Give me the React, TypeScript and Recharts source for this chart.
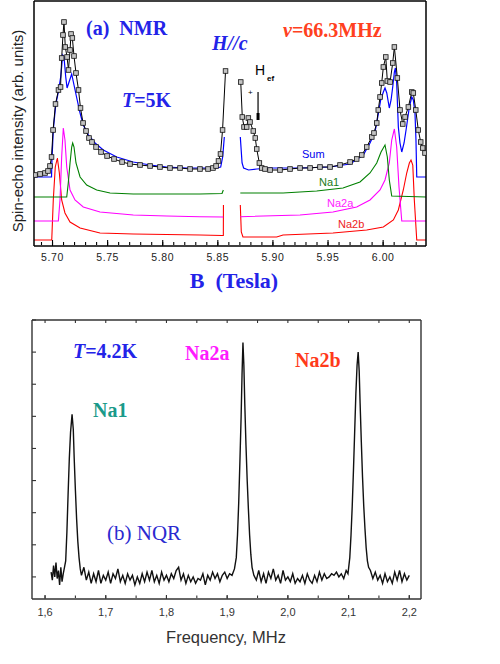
import React from "react";
import { LineChart, Line, XAxis, YAxis, ReferenceLine } from "recharts";

// (a) NMR spectrum, field sweep at 66.3 MHz, T = 5 K  — [B (T), intensity (arb.)]
// null = gap left out around the reference line near 5.86 T
const measured: [number, number | null][] = [
  [5.6841, 71], [5.6887, 72], [5.6932, 73], [5.6959, 75], [5.6977, 80], [5.6991, 89],
  [5.7005, 116], [5.7027, 142], [5.7054, 156], [5.7073, 159], [5.7083, 188], [5.7095, 211],
  [5.7104, 224], [5.7116, 199], [5.7132, 189], [5.7145, 176], [5.7159, 196], [5.7168, 212],
  [5.718, 208], [5.7195, 190], [5.7213, 173], [5.7236, 156], [5.7254, 138], [5.7277, 123],
  [5.7304, 115], [5.7331, 108], [5.7358, 104], [5.7395, 99], [5.744, 94], [5.7495, 90],
  [5.7558, 87], [5.7631, 84], [5.7703, 82], [5.7794, 81], [5.7885, 80], [5.7975, 79],
  [5.8066, 78], [5.8157, 78], [5.8248, 77], [5.8338, 77], [5.8411, 77], [5.8456, 78],
  [5.8484, 80], [5.8506, 85], [5.8524, 92], [5.8543, 116], [5.857, 175],
  [5.8629, null],
  [5.8708, 164], [5.8722, 129], [5.8738, 119], [5.8762, 119], [5.8777, 128], [5.8792, 124],
  [5.8822, 115], [5.884, 108], [5.8853, 97], [5.8877, 83], [5.8898, 78], [5.8928, 77],
  [5.8974, 76], [5.9064, 76], [5.9155, 77], [5.9246, 78], [5.9337, 78], [5.9427, 79],
  [5.9518, 79], [5.9609, 81], [5.97, 84], [5.976, 87], [5.9806, 91], [5.9851, 99],
  [5.9897, 109], [5.9917, 113], [5.9942, 123], [5.9956, 136], [5.9972, 149], [5.9987, 163],
  [6.0002, 179], [6.0024, 189], [6.0038, 165], [6.0063, 164], [6.0087, 183], [6.0102, 199],
  [6.0129, 168], [6.0153, 136], [6.0178, 122], [6.0199, 129], [6.0229, 139], [6.026, 154],
  [6.0274, 153], [6.0296, 136], [6.0319, 116], [6.0341, 104], [6.0359, 98], [6.038, 93],
];

const sumFit: [number, number | null][] = [
  [5.6832, 69], [5.6991, 69], [5.6995, 86], [5.7007, 116], [5.7029, 141], [5.7053, 154],
  [5.7074, 169], [5.7093, 191], [5.7104, 189], [5.712, 169], [5.7132, 158], [5.715, 164],
  [5.7174, 172], [5.7195, 161], [5.722, 148], [5.725, 133], [5.7279, 121], [5.7325, 111],
  [5.7386, 103], [5.7461, 96], [5.7583, 89], [5.7733, 84], [5.7885, 81], [5.8036, 79],
  [5.8218, 78], [5.8399, 78], [5.849, 78], [5.8526, 79], [5.8544, 89], [5.8559, 109],
  [5.8629, null],
  [5.8704, 109], [5.872, 83], [5.8734, 78], [5.8779, 76], [5.8853, 77], [5.8974, 78],
  [5.9246, 78], [5.9518, 79], [5.97, 82], [5.982, 91], [5.9881, 103], [5.9926, 114],
  [5.9942, 123], [5.9978, 146], [6.0002, 154], [6.0017, 158], [6.0033, 153], [6.0056, 138],
  [6.0072, 146], [6.0087, 159], [6.0102, 174], [6.0111, 178], [6.0123, 163], [6.0138, 119],
  [6.0153, 103], [6.0169, 94], [6.019, 103], [6.0208, 116], [6.0238, 139], [6.026, 149],
  [6.0274, 146], [6.0289, 133], [6.0298, 106], [6.0305, 69], [6.0389, 69],
];

const na1Fit: [number, number | null][] = [
  [5.6832, 49], [5.7129, 49], [5.7143, 63], [5.7159, 83], [5.7174, 99], [5.7183, 103],
  [5.7195, 99], [5.7213, 83], [5.725, 69], [5.731, 61], [5.7401, 56], [5.7522, 53],
  [5.7733, 52], [5.8036, 52], [5.8338, 52], [5.8538, 52.5], [5.855, 56],
  [5.8629, null],
  [5.8704, 53], [5.9092, 53], [5.9397, 55], [5.9636, 58], [5.979, 64], [5.9881, 73],
  [5.9942, 83], [5.9981, 94], [6.0017, 101], [6.0038, 89], [6.0056, 66], [6.0078, 50],
  [6.0389, 49],
];

const na2aFit: [number, number | null][] = [
  [5.6832, 25], [5.7053, 25], [5.7068, 46], [5.7083, 89], [5.7098, 118], [5.7113, 106],
  [5.7129, 79], [5.7159, 56], [5.7204, 46], [5.7279, 39], [5.7431, 34], [5.7733, 31],
  [5.8036, 30], [5.8338, 29.3], [5.855, 29],
  [5.8629, null],
  [5.8704, 29.3], [5.9246, 31], [5.9545, 34], [5.976, 39], [5.9881, 46], [5.9972, 56],
  [6.0017, 66], [6.0056, 83], [6.0078, 106], [6.0102, 117], [6.0123, 99], [6.0144, 59],
  [6.0169, 25], [6.0389, 25],
];

const na2bFit: [number, number | null][] = [
  [5.6832, 6], [5.6993, 6], [5.7007, 46], [5.7025, 79], [5.7044, 88], [5.7062, 73],
  [5.7083, 46], [5.7113, 33], [5.7159, 24], [5.725, 18], [5.7431, 13], [5.7733, 12],
  [5.8338, 11], [5.8538, 10.5], [5.855, 10.5], [5.8551, 41],
  [5.8629, null],
  [5.8704, 41], [5.8713, 14], [5.8728, 9], [5.9034, 9], [5.9092, 11], [5.9545, 13],
  [5.9851, 16], [6.0002, 19], [6.0093, 26], [6.0138, 36], [6.0183, 56], [6.0214, 73],
  [6.0238, 83], [6.0253, 86], [6.0269, 81], [6.0283, 46], [6.0305, 6], [6.0389, 6],
];

const nmrTicks = [
  5.69, 5.7, 5.71, 5.72, 5.73, 5.74, 5.75, 5.76, 5.77, 5.78, 5.79, 5.8, 5.81, 5.82,
  5.83, 5.84, 5.85, 5.86, 5.87, 5.88, 5.89, 5.9, 5.91, 5.92, 5.93, 5.94, 5.95, 5.96,
  5.97, 5.98, 5.99, 6.0, 6.01, 6.02, 6.03,
];
const nmrLabels = [5.7, 5.75, 5.8, 5.85, 5.9, 5.95, 6.0];

// (b) NQR spectrum at 4.2 K — [frequency (MHz), intensity (arb.)]
const nqr: [number, number][] = [
  [1.61, 0.15], [1.612, -0.1], [1.614, 0.35], [1.616, 0], [1.618, 0.45], [1.62, -0.05],
  [1.622, 0.2], [1.624, -0.25], [1.626, 0.3], [1.628, -0.15], [1.63, 0.1], [1.632, 0.3],
  [1.634, 0.5], [1.636, 1.4], [1.638, 2.6], [1.64, 3.7], [1.642, 4.5], [1.6445, 5.06],
  [1.6465, 4.6], [1.648, 3.7], [1.65, 2.7], [1.652, 1.8], [1.654, 1.1], [1.656, 0.6],
  [1.658, 0.25], [1.66, 0.05], [1.664, 0.3], [1.668, -0.1], [1.672, 0.15], [1.676, -0.2],
  [1.68, 0.1], [1.684, -0.15], [1.688, 0.2], [1.692, -0.2], [1.696, 0.05], [1.7, -0.1],
  [1.704, 0.15], [1.708, -0.2], [1.712, 0.1], [1.716, -0.05], [1.72, 0.25], [1.724, -0.15],
  [1.728, 0.05], [1.732, -0.2], [1.736, 0.1], [1.74, -0.1], [1.744, 0.05], [1.748, -0.25],
  [1.752, 0], [1.756, -0.2], [1.76, 0.1], [1.764, -0.15], [1.768, 0.15], [1.772, -0.1],
  [1.776, 0.2], [1.78, -0.15], [1.784, 0.05], [1.788, -0.2], [1.792, 0.15], [1.796, -0.1],
  [1.8, 0.05], [1.804, -0.15], [1.808, 0.1], [1.812, -0.05], [1.816, 0.2], [1.82, 0.3],
  [1.824, -0.1], [1.828, 0.1], [1.832, -0.2], [1.836, 0.05], [1.84, -0.15], [1.844, 0],
  [1.848, -0.2], [1.852, -0.05], [1.856, -0.1], [1.86, 0.1], [1.864, -0.25], [1.868, 0.05],
  [1.872, -0.1], [1.876, 0.15], [1.88, -0.05], [1.884, 0.1], [1.888, -0.15], [1.892, 0.05],
  [1.896, 0.15], [1.9, -0.05], [1.904, 0.1], [1.908, 0.05], [1.912, 0.25], [1.915, 0.6],
  [1.917, 1.3], [1.919, 2.3], [1.921, 3.6], [1.923, 5.0], [1.9245, 6.3], [1.926, 7.3],
  [1.9275, 6.6], [1.929, 5.4], [1.931, 4.1], [1.933, 3.0], [1.935, 2.1], [1.937, 1.3],
  [1.939, 0.7], [1.941, 0.3], [1.944, 0.05], [1.948, -0.1], [1.952, 0.2], [1.956, -0.15],
  [1.96, 0.1], [1.964, -0.2], [1.968, 0.15], [1.972, -0.05], [1.976, 0.25], [1.98, -0.1],
  [1.984, 0.05], [1.988, -0.2], [1.992, 0.2], [1.996, -0.1], [2.0, 0], [2.004, -0.15],
  [2.008, 0.1], [2.012, -0.2], [2.016, -0.05], [2.02, -0.15], [2.024, 0.05], [2.028, -0.2],
  [2.032, 0.1], [2.036, -0.1], [2.04, -0.2], [2.044, 0.05], [2.048, -0.15], [2.052, 0.15],
  [2.056, -0.1], [2.06, 0.1], [2.064, -0.05], [2.068, 0], [2.072, 0.1], [2.076, 0.05],
  [2.08, 0.15], [2.084, 0], [2.088, 0.1], [2.092, -0.05], [2.096, 0.2], [2.099, 0.1],
  [2.102, 0.6], [2.104, 1.3], [2.106, 2.2], [2.108, 3.3], [2.11, 4.5], [2.112, 5.7],
  [2.114, 6.6], [2.1158, 7.0], [2.1175, 6.4], [2.119, 5.4], [2.121, 4.2], [2.123, 3.1],
  [2.125, 2.2], [2.127, 1.5], [2.129, 0.9], [2.131, 0.5], [2.133, 0.3], [2.136, 0.2],
  [2.14, -0.05], [2.144, 0.15], [2.148, -0.1], [2.152, 0.05], [2.156, -0.2], [2.16, 0.1],
  [2.164, -0.15], [2.168, 0], [2.172, -0.2], [2.176, 0.15], [2.18, -0.1], [2.184, 0.2],
  [2.188, -0.15], [2.192, 0.1], [2.196, -0.1], [2.2, 0.05],
];

const nqrTicks = [1.6, 1.65, 1.7, 1.75, 1.8, 1.85, 1.9, 1.95, 2.0, 2.05, 2.1, 2.15, 2.2];
const nqrMajor = [1.6, 1.7, 1.8, 1.9, 2.0, 2.1, 2.2];
const nqrLabels = ["1,6", "1,7", "1,8", "1,9", "2,0", "2,1", "2,2"];
const nqrYTicks = [0, 1, 2, 3, 4, 5, 6, 7, 8];

const toRows = (pairs: [number, number | null][]) => pairs.map(([x, v]) => ({ x, v }));

const serif = "'Liberation Serif', 'Times New Roman', serif";
const sans = "'Liberation Sans', Arial, sans-serif";
const BLUE = "#2323e8";

const NmrLabel = (props: any) => {
  const { x, y, payload } = props;
  return (
    <text x={x} y={y + 15} textAnchor="middle" fontFamily={sans} fontSize={10.5} fill="#222" letterSpacing={0.6}>
      {payload.value.toFixed(2)}
    </text>
  );
};

const NqrLabel = (props: any) => {
  const { x, y, payload, index } = props;
  return (
    <text x={x} y={y + 17} textAnchor="middle" fontFamily={sans} fontSize={11} fill="#333">
      {nqrLabels[index] ?? payload.value}
    </text>
  );
};

const NoLabel = () => <g />;

const SquareDot = (p: any) => {
  if (p.cx == null || p.cy == null || p.value == null) return <g key={`s${p.index}`} />;
  return (
    <rect
      key={`s${p.index}`}
      x={p.cx - 2.3}
      y={p.cy - 2.3}
      width={4.6}
      height={4.6}
      fill="#c4c4c4"
      stroke="#111"
      strokeWidth={0.8}
    />
  );
};

// inward tick marks drawn by mirrored axes that take no room
const inward = (id: string, orientation: "top" | "bottom", domain: number[], ticks: number[], size: number, color: string) => (
  <XAxis
    xAxisId={id}
    orientation={orientation}
    mirror
    type="number"
    dataKey="x"
    domain={domain}
    allowDataOverflow
    ticks={ticks}
    interval={0}
    tickSize={size}
    tickLine={{ stroke: color, strokeWidth: 1.1 }}
    tick={<NoLabel />}
    axisLine={false}
    height={1}
  />
);

const NMR_X = [5.6832, 6.0389];
const NQR_X = [1.5785, 2.2193];

const NmrPanel = () => (
  <LineChart width={500} height={300} margin={{ top: 0, right: 73, bottom: 24, left: 33 }}>
    <XAxis
      dataKey="x"
      type="number"
      domain={NMR_X}
      allowDataOverflow
      ticks={nmrLabels}
      interval={0}
      tickSize={0}
      tickMargin={0}
      tickLine={false}
      tick={<NmrLabel />}
      height={30}
      axisLine={{ stroke: "#000", strokeWidth: 1.5 }}
    />
    {inward("minor", "bottom", NMR_X, nmrTicks, 3, "#000")}
    {inward("major", "bottom", NMR_X, nmrLabels, 6, "#000")}
    <XAxis xAxisId="top" orientation="top" type="number" dataKey="x" domain={NMR_X} allowDataOverflow height={1} tick={false} tickLine={false} axisLine={{ stroke: "#000", strokeWidth: 1.5 }} />
    <YAxis type="number" domain={[0, 245]} allowDataOverflow width={1} tick={false} tickLine={false} axisLine={{ stroke: "#000", strokeWidth: 1.5 }} />
    <YAxis yAxisId="right" orientation="right" type="number" domain={[0, 245]} width={1} tick={false} tickLine={false} axisLine={{ stroke: "#000", strokeWidth: 1.5 }} />
    <Line data={toRows(na2bFit)} dataKey="v" stroke="#ff0000" strokeWidth={1.1} dot={false} isAnimationActive={false} />
    <Line data={toRows(na2aFit)} dataKey="v" stroke="#ff00ff" strokeWidth={1.1} dot={false} isAnimationActive={false} />
    <Line data={toRows(na1Fit)} dataKey="v" stroke="#008000" strokeWidth={1.1} dot={false} isAnimationActive={false} />
    <Line data={toRows(sumFit)} dataKey="v" stroke="#0000ff" strokeWidth={1.2} dot={false} isAnimationActive={false} />
    <Line data={toRows(measured)} dataKey="v" stroke="#000" strokeWidth={1} dot={<SquareDot />} isAnimationActive={false} />
    <ReferenceLine segment={[{ x: 5.8865, y: 154 }, { x: 5.8865, y: 127 }]} stroke="#000" strokeWidth={1.2} />
    <ReferenceLine segment={[{ x: 5.8865, y: 133 }, { x: 5.8865, y: 126 }]} stroke="#000" strokeWidth={3} />
  </LineChart>
);

const NqrPanel = () => (
  <LineChart width={500} height={354} data={nqr.map(([x, v]) => ({ x, v }))} margin={{ top: 10, right: 78, bottom: 35, left: 32 }}>
    <XAxis
      dataKey="x"
      type="number"
      domain={NQR_X}
      allowDataOverflow
      ticks={nqrMajor}
      interval={0}
      tickSize={0}
      tickMargin={0}
      tickLine={false}
      tick={<NqrLabel />}
      height={30}
      axisLine={{ stroke: "#333", strokeWidth: 1.4 }}
    />
    {inward("minor", "bottom", NQR_X, nqrTicks, 2.5, "#333")}
    {inward("major", "bottom", NQR_X, nqrMajor, 4, "#333")}
    <XAxis
      xAxisId="top"
      orientation="top"
      mirror
      dataKey="x"
      type="number"
      domain={NQR_X}
      allowDataOverflow
      ticks={nqrTicks}
      interval={0}
      tickSize={3}
      tickLine={{ stroke: "#333", strokeWidth: 1.1 }}
      tick={<NoLabel />}
      height={1}
      axisLine={{ stroke: "#333", strokeWidth: 1.4 }}
    />
    <YAxis
      type="number"
      mirror
      domain={[-0.6875, 8]}
      allowDataOverflow
      ticks={nqrYTicks}
      interval={0}
      tickSize={4}
      tickLine={{ stroke: "#333", strokeWidth: 1.1 }}
      tick={<NoLabel />}
      width={1}
      axisLine={{ stroke: "#333", strokeWidth: 1.4 }}
    />
    <YAxis yAxisId="right" orientation="right" type="number" domain={[-0.6875, 8]} width={1} tick={false} tickLine={false} axisLine={{ stroke: "#333", strokeWidth: 1.4 }} />
    <Line dataKey="v" stroke="#111" strokeWidth={1.4} dot={false} isAnimationActive={false} />
  </LineChart>
);

const Labels = () => (
  <svg width={500} height={664} style={{ position: "absolute", left: 0, top: 0, pointerEvents: "none" }}>
    {/* panel (a) */}
    <text x={86} y={35} fontFamily={serif} fontWeight="bold" fontSize={20} fill={BLUE}>
      (a)&#160; NMR
    </text>
    <text x={122} y={107} fontFamily={serif} fontWeight="bold" fontSize={20} fill={BLUE}>
      <tspan fontStyle="italic">T</tspan>=5K
    </text>
    <text x={212} y={50} fontFamily={serif} fontWeight="bold" fontStyle="italic" fontSize={20} fill={BLUE}>
      H//c
    </text>
    <text x={283} y={37} fontFamily={serif} fontWeight="bold" fontSize={20} fill="#ff4020">
      <tspan fontStyle="italic">ν</tspan>=66.3MHz
    </text>
    <text x={302} y={158} fontFamily={sans} fontSize={11} fill="#0000ee">Sum</text>
    <text x={319} y={186} fontFamily={sans} fontSize={11} fill="#1a7a1a">Na1</text>
    <text x={327} y={207} fontFamily={sans} fontSize={11} fill="#ff22ff">Na2a</text>
    <text x={338} y={228} fontFamily={sans} fontSize={11} fill="#ee2222">Na2b</text>
    <text x={255} y={75} fontFamily={sans} fontSize={14} fill="#000">H</text>
    <text x={267} y={81} fontFamily={sans} fontWeight="bold" fontSize={8} fill="#000">ef</text>
    <text x={248} y={95} fontFamily={sans} fontSize={8} fill="#000">+</text>
    <text x={234} y={288} textAnchor="middle" fontFamily={serif} fontWeight="bold" fontSize={22} fill={BLUE}>
      B&#160; (Tesla)
    </text>
    <text
      x={17}
      y={131}
      transform="rotate(-90, 17, 131)"
      textAnchor="middle"
      dominantBaseline="central"
      fontFamily={sans}
      fontSize={15}
      fill="#222"
    >
      Spin-echo intensity (arb. units)
    </text>

    {/* panel (b) */}
    <text x={73} y={358} fontFamily={serif} fontWeight="bold" fontSize={20} fill={BLUE}>
      <tspan fontStyle="italic">T</tspan>=4.2K
    </text>
    <text x={185} y={360} fontFamily={serif} fontWeight="bold" fontSize={20} fill="#ff1aff">Na2a</text>
    <text x={295} y={367} fontFamily={serif} fontWeight="bold" fontSize={20} fill="#ff3a1a">Na2b</text>
    <text x={93} y={417} fontFamily={serif} fontWeight="bold" fontSize={20} fill="#1a9a8a">Na1</text>
    <text x={107} y={540} fontFamily={serif} fontSize={21} fill="#2a2ad0">(b) NQR</text>
    <text x={226} y={643} textAnchor="middle" fontFamily={sans} fontSize={16.5} fill="#333">
      Frequency, MHz
    </text>
  </svg>
);

export default function App() {
  return (
    <div style={{ position: "absolute", left: 0, top: 0, width: 500, height: 664, background: "#fff" }}>
      <div style={{ position: "absolute", left: 0, top: 0 }}>
        <NmrPanel />
      </div>
      <div style={{ position: "absolute", left: 0, top: 310 }}>
        <NqrPanel />
      </div>
      <Labels />
    </div>
  );
}
